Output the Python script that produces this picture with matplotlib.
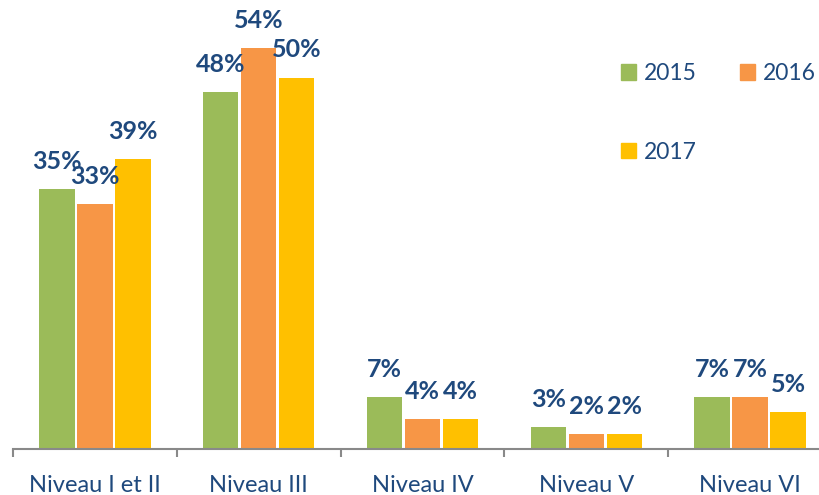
import matplotlib
matplotlib.use("Agg")
import matplotlib.pyplot as plt
from matplotlib.patches import Patch
import numpy as np

# values (percent)
categories = ["Niveau I et II", "Niveau III", "Niveau IV", "Niveau V", "Niveau VI"]
years = ["2015", "2016", "2017"]
v2015 = [35, 48, 7, 3, 7]
v2016 = [33, 54, 4, 2, 7]
v2017 = [39, 50, 4, 2, 5]

colors = ["#9BBB59", "#F79646", "#FFC000"]
text_blue = "#1F497D"
axis_grey = "#898989"
plt.rcParams["font.family"] = ["Lato", "DejaVu Sans"]

fig = plt.figure(figsize=(8.19, 4.95), dpi=100)
# axis spans past the right edge like the cropped original
ax = fig.add_axes([13 / 819, 46 / 495, 5 * 163.8 / 819, 449 / 495])

x = np.arange(len(categories))
step = 0.232
width = 0.215
series = [v2015, v2016, v2017]
for k, vals in enumerate(series):
    pos = x + (k - 1) * step
    ax.bar(pos, vals, width, color=colors[k], zorder=2)
    for px, v in zip(pos, vals):
        ax.annotate(f"{v}%", (px, v), xytext=(0, 14.5), textcoords="offset points",
                    ha="center", va="baseline", fontsize=18, fontweight="bold",
                    color=text_blue)

ax.set_xlim(-0.5, 4.5)
ax.set_ylim(0, 449 / 7.43)

for s in ["left", "top", "right"]:
    ax.spines[s].set_visible(False)
ax.spines["bottom"].set_color(axis_grey)
ax.spines["bottom"].set_linewidth(1.5)
ax.set_yticks([])

ax.set_xticks(np.arange(-0.5, 5.0, 1.0))
ax.set_xticklabels([])
ax.tick_params(axis="x", which="major", length=6, width=1.5, color=axis_grey)
ax.set_xticks(x, minor=True)
ax.set_xticklabels(categories, minor=True)
ax.tick_params(axis="x", which="minor", length=0, pad=18.5, labelsize=17,
               labelcolor=text_blue)

handles = [Patch(color=colors[0], label=years[0]),
           Patch(color=colors[2], label=years[2]),
           Patch(color=colors[1], label=years[1])]
leg = fig.legend(handles=handles, ncol=2, loc="upper left",
                 bbox_to_anchor=(621 / 819, 1 - 63 / 495), frameon=False,
                 fontsize=16.5, handlelength=0.65, handleheight=0.65,
                 handletextpad=0.35, columnspacing=1.9, labelspacing=2.52,
                 borderpad=0, borderaxespad=0)
for t in leg.get_texts():
    t.set_color(text_blue)

fig.savefig("out.png", dpi=100)
